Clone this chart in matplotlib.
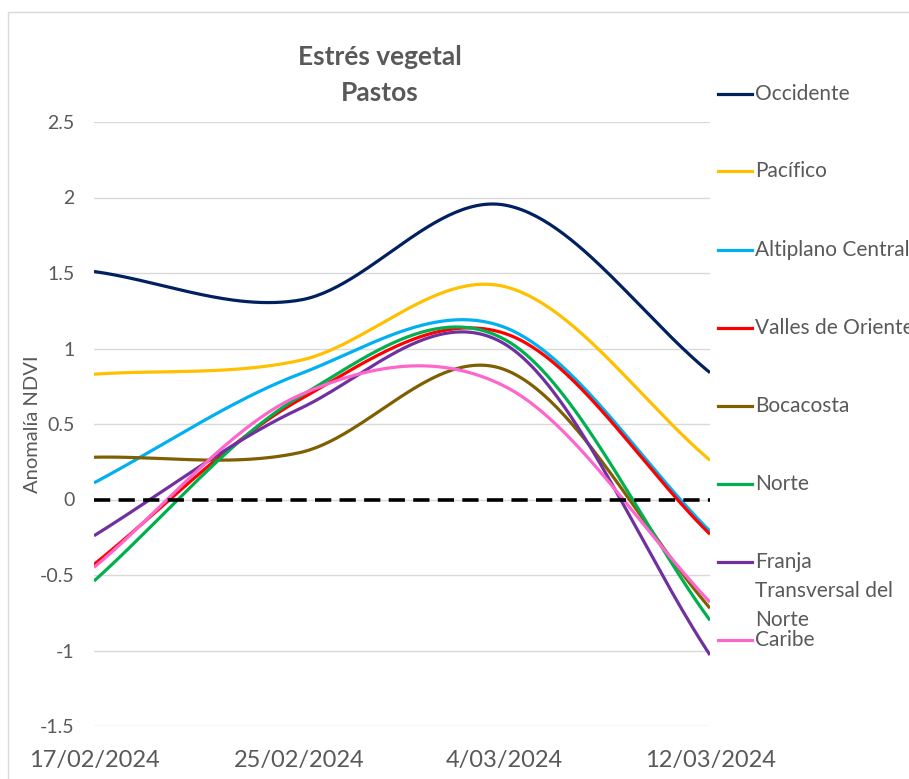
import numpy as np
import matplotlib
matplotlib.use("Agg")
import matplotlib.pyplot as plt
from matplotlib.lines import Line2D
from matplotlib.patches import Rectangle

plt.rcParams['font.family'] = ['Lato', 'DejaVu Sans']

dates = ["17/02/2024", "25/02/2024", "4/03/2024", "12/03/2024"]
days = [0, 8, 16, 24]

occidente = [1.51, 1.32, 1.95, 0.84]
pacifico = [0.83, 0.92, 1.41, 0.26]
altiplano = [0.11, 0.83, 1.14, -0.21]
valles = [-0.43, 0.66, 1.10, -0.23]
bocacosta = [0.28, 0.31, 0.86, -0.72]
norte = [-0.54, 0.68, 1.06, -0.80]
franja = [-0.24, 0.60, 1.03, -1.03]
caribe = [-0.45, 0.69, 0.75, -0.68]
cero = [0, 0, 0, 0]

names = ["Occidente", "Pacífico", "Altiplano Central", "Valles de Oriente",
         "Bocacosta", "Norte", "Franja Transversal del Norte", "Caribe"]
series = [occidente, pacifico, altiplano, valles, bocacosta, norte, franja, caribe]
colors = ["#002060", "#FFC000", "#00B0F0", "#FF0000",
          "#7F6000", "#00B050", "#7030A0", "#FF66CC"]


def smooth(xs, ys, n=60):
    # catmull-rom like the excel "smoothed line"
    xs = np.asarray(xs, float); ys = np.asarray(ys, float)
    m = np.zeros(len(ys))
    m[0] = ys[1] - ys[0]
    m[-1] = ys[-1] - ys[-2]
    m[1:-1] = (ys[2:] - ys[:-2]) / 2
    outx, outy = [], []
    for i in range(len(ys) - 1):
        t = np.linspace(0, 1, n)
        h00 = 2*t**3 - 3*t**2 + 1
        h10 = t**3 - 2*t**2 + t
        h01 = -2*t**3 + 3*t**2
        h11 = t**3 - t**2
        outy.append(h00*ys[i] + h10*m[i] + h01*ys[i+1] + h11*m[i+1])
        outx.append(xs[i] + t*(xs[i+1] - xs[i]))
    return np.concatenate(outx), np.concatenate(outy)


W, H = 909, 779
fig = plt.figure(figsize=(W/100, H/100), dpi=100)
px = lambda x: x / W
py = lambda y: 1 - y / H

ax = fig.add_axes([px(94), py(726), px(710) - px(94), py(122) - py(726)])

for s, c in zip(series, colors):
    sx, sy = smooth(days, s)
    ax.plot(sx, sy, color=c, lw=2.3, solid_capstyle='butt')
ax.plot(days, cero, color='black', lw=2.6, ls=(0, (4.5, 2.3)), zorder=5)

ax.set_xlim(0, 24)
ax.set_ylim(-1.5, 2.5)
ax.set_yticks(np.arange(-1.5, 2.51, 0.5))
ax.set_yticklabels(["-1.5", "-1", "-0.5", "0", "0.5", "1", "1.5", "2", "2.5"])
ax.set_xticks(days)
ax.set_xticklabels(dates)
ax.grid(axis='y', color='#d9d9d9', lw=1)
ax.set_axisbelow(True)
for sp in ax.spines.values():
    sp.set_visible(False)
ax.tick_params(axis='y', length=0, pad=14, labelsize=14, labelcolor='#595959')
ax.tick_params(axis='x', length=0, pad=17, labelsize=17, labelcolor='#595959')

fig.text(px(33), py(424), "Anomalía NDVI", rotation=90, ha='center', va='center',
         fontsize=14.5, color='#595959')
fig.text(px(380), py(57), "Estrés vegetal", ha='center', va='center',
         fontsize=19, fontweight='bold', color='#595959')
fig.text(px(380), py(93), "Pastos", ha='center', va='center',
         fontsize=19, fontweight='bold', color='#595959')

# legend, excel style
leg_y = [94, 171, 250, 328, 406, 484, 562, 640]
leg_txt = [["Occidente"], ["Pacífico"], ["Altiplano Central"], ["Valles de Oriente"],
           ["Bocacosta"], ["Norte"], ["Franja", "Transversal del", "Norte"], ["Caribe"]]
for y, lines, c in zip(leg_y, leg_txt, colors):
    fig.add_artist(Line2D([px(718), px(752)], [py(y), py(y)], color=c, lw=2.3,
                          transform=fig.transFigure))
    for k, t in enumerate(lines):
        fig.text(px(755), py(y + 29*k), t, ha='left', va='center',
                 fontsize=15, color='#595959')

fig.add_artist(Rectangle((px(8), -0.05), 1.1, py(12) + 0.05, transform=fig.transFigure,
                         fill=False, edgecolor='#d9d9d9', lw=1))

fig.savefig("out.png", dpi=100)
